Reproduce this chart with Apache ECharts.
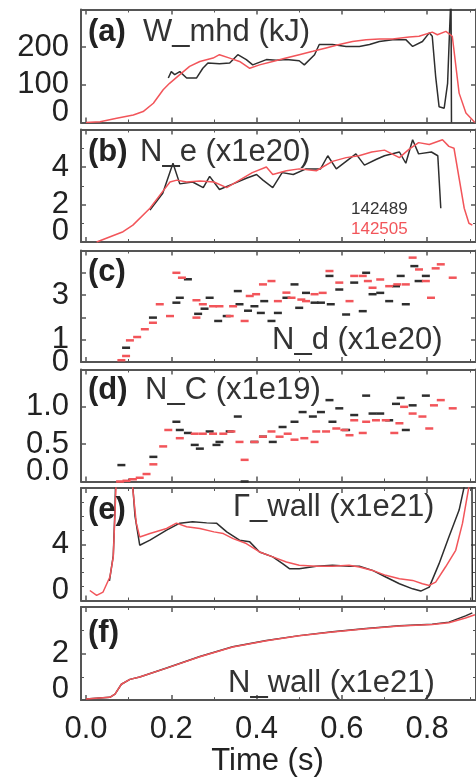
<!DOCTYPE html>
<html><head><meta charset="utf-8">
<script src="https://cdn.jsdelivr.net/npm/echarts@6/dist/echarts.min.js"></script>
<style>html,body{margin:0;padding:0;background:#fff}#c{width:476px;height:778px}</style>
</head><body><div id="c"></div>
<script>
// ---------- DATA ----------
const shotLabels = ['142489', '142505'];
const timeTicks = [0.0, 0.2, 0.4, 0.6, 0.8];

// (a) W_mhd (kJ)
const tA_blk = [0.193,0.2,0.208,0.22,0.236,0.259,0.274,0.286,0.313,0.337,0.356,0.376,0.391,0.423,0.446,0.47,0.5,0.512,0.536,0.547,0.578,0.61,0.641,0.665,0.688,0.719,0.75,0.766,0.789,0.805,0.812,0.82,0.828,0.84,0.848,0.853,0.856,0.857,0.8571];
const wBlk   = [118,135,127,135,118,118,144,158,156,158,180,167,153,167,165,167,164,153,180,207,207,202,202,207,215,220,220,202,215,238,229,122,42,38,104,255,340,340,0];
const tA_red = [0,0.033,0.072,0.111,0.134,0.158,0.181,0.196,0.22,0.243,0.267,0.298,0.313,0.337,0.36,0.384,0.407,0.438,0.469,0.5,0.532,0.563,0.594,0.625,0.657,0.688,0.719,0.758,0.781,0.812,0.824,0.844,0.859,0.875,0.891,0.912];
const wRed   = [0,2,11,20,29,51,87,104,127,149,162,171,180,171,162,144,153,162,171,180,189,198,207,215,220,222,222,227,229,240,233,242,229,78,25,0];

// (b) N_e (x1e20)
const tB_blk = [0.15,0.18,0.204,0.22,0.25,0.275,0.29,0.313,0.345,0.376,0.4,0.415,0.438,0.46,0.486,0.516,0.55,0.567,0.587,0.61,0.633,0.653,0.68,0.70,0.735,0.75,0.766,0.78,0.81,0.825,0.832];
const neBlk  = [1.7,2.6,4.2,3.1,3.2,2.9,3.5,2.8,3.1,3.4,3.6,3.3,2.9,3.7,3.6,3.9,3.9,4.6,3.9,4.3,4.7,4.1,4.4,4.6,4.8,4.2,5.45,4.7,4.8,4.6,1.8];
const tB_red = [0.025,0.087,0.11,0.15,0.18,0.197,0.213,0.236,0.267,0.3,0.33,0.36,0.39,0.423,0.438,0.47,0.5,0.54,0.578,0.61,0.64,0.67,0.70,0.735,0.758,0.78,0.805,0.836,0.851,0.863,0.875,0.887,0.898,0.906];
const neRed  = [0,0.55,0.9,1.8,2.7,3.2,3.3,3.2,3.25,3.2,2.9,3.3,3.7,4.0,3.6,3.8,3.9,3.8,4.3,4.5,4.6,4.8,4.9,4.5,4.95,5.3,5.2,5.45,5.1,5.0,3.4,1.8,1.0,0.9];

// (c) N_d (x1e20) - scattered samples
const tC_blk = [0.094,0.157,0.212,0.22,0.239,0.263,0.278,0.29,0.31,0.33,0.356,0.36,0.372,0.38,0.395,0.41,0.418,0.435,0.45,0.47,0.489,0.5,0.516,0.536,0.551,0.571,0.574,0.594,0.61,0.629,0.649,0.657,0.672,0.69,0.711,0.727,0.738,0.75,0.77,0.78,0.797];
const ndBlk  = [0.64,1.99,2.66,2.88,3.71,2.16,2.39,2.88,1.84,2.06,3.18,2.59,-0.03,2.3,2.5,2.2,2.73,1.84,2.2,2.88,3.48,2.43,3.1,2.66,2.66,3.86,2.59,3.25,2.13,3.56,2.28,4.0,3.04,3.1,2.73,3.4,3.86,2.59,4.3,3.63,3.86];
const tC_red = [0.083,0.094,0.103,0.12,0.138,0.157,0.173,0.197,0.212,0.225,0.259,0.259,0.274,0.298,0.313,0.337,0.345,0.372,0.384,0.399,0.415,0.435,0.45,0.47,0.482,0.505,0.516,0.536,0.555,0.571,0.594,0.618,0.629,0.649,0.661,0.672,0.69,0.711,0.73,0.75,0.766,0.781,0.797,0.809,0.82,0.832,0.86];
const ndRed  = [0.08,0.27,0.97,1.12,1.47,1.76,2.59,2.06,4.0,3.78,1.99,2.77,2.59,2.5,2.5,2.06,2.5,1.84,2.96,3.04,3.48,3.63,2.73,3.11,2.88,2.8,2.73,3.04,3.1,4.08,3.56,2.73,3.86,3.86,3.63,3.33,3.7,3.4,3.48,3.48,4.68,4.15,3.63,2.88,4.2,4.38,3.78];

// (d) N_C (x1e19) - scattered samples
const tD_blk = [0.083,0.158,0.212,0.22,0.239,0.255,0.267,0.29,0.306,0.313,0.337,0.356,0.372,0.395,0.415,0.438,0.461,0.489,0.508,0.532,0.551,0.571,0.578,0.594,0.61,0.629,0.657,0.672,0.69,0.711,0.727,0.738,0.75,0.766,0.797];
const ncBlk  = [0.22,0.33,0.8,0.69,0.65,0.49,0.44,0.67,0.49,0.53,0.67,0.87,0.0,0.53,0.6,0.53,0.73,0.8,0.93,0.87,0.93,1.09,0.8,0.98,0.69,0.89,1.15,0.91,0.91,0.82,1.04,1.12,0.69,1.02,1.15];
const tD_red = [0.08,0.095,0.11,0.126,0.142,0.158,0.181,0.193,0.22,0.255,0.274,0.298,0.322,0.341,0.36,0.372,0.395,0.415,0.435,0.454,0.473,0.489,0.512,0.536,0.54,0.563,0.587,0.606,0.618,0.629,0.649,0.657,0.68,0.703,0.723,0.735,0.746,0.766,0.789,0.805,0.816,0.832,0.86];
const ncRed  = [0,0.01,0.03,0.05,0.1,0.23,0.47,0.69,0.58,0.64,0.64,0.64,0.64,0.67,0.53,0.29,0.53,0.6,0.67,0.6,0.64,0.56,0.58,0.53,0.67,0.67,0.71,0.69,0.62,0.82,0.65,0.8,0.82,0.82,0.65,0.78,1.0,0.91,0.87,0.71,1.02,1.09,0.98];

// (e) Gamma_wall (x1e21)
const tE_blk = [0.055,0.064,0.068,0.072,0.1,0.115,0.126,0.15,0.189,0.22,0.25,0.283,0.306,0.33,0.36,0.384,0.407,0.438,0.461,0.477,0.5,0.54,0.578,0.617,0.641,0.672,0.703,0.735,0.766,0.785,0.805,0.828,0.851,0.875,0.887,0.895,0.905,0.906];
const gwBlk  = [1.4,3.2,6.5,12,12,6,3.93,4.29,5.0,5.5,5.6,5.52,5.5,4.88,4.29,4.17,3.45,3.1,2.62,2.26,2.26,2.43,2.5,2.43,2.43,2.14,1.67,1.19,0.83,0.67,0.95,2.62,4.52,6.43,8.1,10,10,0];
const tE_red = [0.009,0.025,0.04,0.056,0.064,0.068,0.075,0.1,0.11,0.118,0.126,0.15,0.189,0.212,0.236,0.267,0.3,0.322,0.345,0.376,0.407,0.438,0.47,0.5,0.54,0.578,0.617,0.641,0.672,0.703,0.735,0.766,0.789,0.805,0.82,0.843,0.867,0.883,0.898,0.91];
const gwRed  = [0.71,0.36,0.6,1.67,3.1,6.2,12,12,7.86,5.5,4.52,4.76,5.12,5.5,5.24,5.12,4.88,4.76,4.4,4.05,3.45,3.1,2.74,2.5,2.43,2.43,2.5,2.38,2.14,1.79,1.55,1.43,1.19,1.07,1.31,2.38,3.57,5.5,8.1,9.5];

// (f) N_wall (x1e21)
const tF     = [0,0.056,0.068,0.083,0.103,0.126,0.189,0.267,0.344,0.423,0.5,0.578,0.657,0.735,0.812,0.851,0.89,0.912];
const nwRed  = [0.05,0.12,0.26,0.68,0.89,0.99,1.375,1.86,2.28,2.55,2.76,2.93,3.07,3.18,3.25,3.32,3.53,3.67];
const tF_blk = [0,0.056,0.068,0.083,0.103,0.126,0.189,0.267,0.344,0.423,0.5,0.578,0.657,0.735,0.812,0.851,0.89,0.906];
const nwBlk  = [0.05,0.12,0.26,0.68,0.89,0.99,1.38,1.87,2.29,2.56,2.77,2.94,3.08,3.19,3.26,3.35,3.62,3.75];

// ---------- CHART ----------
const FONT = 'Liberation Sans';
const BLK = '#2e2e2e', RED = '#f2555a', AX = '#555';
const X_MIN = -0.0117, X_MAX = 0.9146;
const pair = (ts, vs) => ts.map((t, k) => [t, vs[k]]);

const panels = [
  {top: 9.5,   height: 113,   min: 0, max: 300, interval: 100, minor: 0, labels: [100,200], dec: 0, minBottom: true,
   lines: [[tA_blk, wBlk], [tA_red, wRed]]},
  {top: 129.5, height: 112.5, min: 0, max: 6,   interval: 2,   minor: 2, labels: [2,4], dec: 0, minBottom: true,
   lines: [[tB_blk, neBlk], [tB_red, neRed]]},
  {top: 250.5, height: 111.5, min: 0, max: 5,   interval: 1,   minor: 0, labels: [1,3], dec: 0, minBottom: false,
   dots: [[tC_blk, ndBlk], [tC_red, ndRed]]},
  {top: 369.5, height: 112,   min: 0, max: 1.5, interval: 0.5, minor: 0, labels: [0.5,1], dec: 1, minBottom: true,
   dots: [[tD_blk, ncBlk], [tD_red, ncRed]]},
  {top: 488,   height: 112.5, min: 0, max: 8,   interval: 4,   minor: 4, labels: [4], dec: 0, minBottom: true,
   lines: [[tE_blk, gwBlk], [tE_red, gwRed]]},
  {top: 607,   height: 96,    min: 0, max: 4,   interval: 2,   minor: 2, labels: [2], dec: 0, minBottom: true,
   lines: [[tF_blk, nwBlk], [tF, nwRed]]}
];

const grids = [], xAxes = [], yAxes = [], series = [];
const axisLine = {show: true, onZero: false, lineStyle: {color: AX, width: 2}};
const axisTick = {show: true, inside: true, length: 5, lineStyle: {color: AX, width: 1.5}};
const labelStyle = {fontFamily: FONT, fontSize: 31, color: '#222'};
const has = (arr, v) => arr.some(l => Math.abs(l - v) < 1e-6);

panels.forEach((p, i) => {
  grids.push({left: 81, width: 396, top: p.top, height: p.height, show: false});
  const isLast = i === panels.length - 1;
  const xBase = {
    type: 'value', gridIndex: i, min: X_MIN, max: X_MAX, minInterval: 0.2, maxInterval: 0.2,
    axisLine, axisTick, splitLine: {show: false},
    minorTick: {show: true, splitNumber: 2, length: 3, lineStyle: {color: AX, width: 1}}
  };
  xAxes.push(Object.assign({}, xBase, {
    position: 'bottom',
    axisLabel: isLast ? Object.assign({}, labelStyle, {
      margin: 14, showMinLabel: false, showMaxLabel: false,
      formatter: v => has(timeTicks, v) ? v.toFixed(1) : ''
    }) : {show: false},
    name: isLast ? 'Time (s)' : '', nameLocation: 'middle', nameGap: 38,
    nameTextStyle: Object.assign({}, labelStyle, {padding: [0, 22, 0, 0]})
  }));
  xAxes.push(Object.assign({}, xBase, {position: 'top', axisLabel: {show: false}}));

  const yBase = {
    type: 'value', gridIndex: i, min: p.min, max: p.max, interval: p.interval,
    axisLine, axisTick, splitLine: {show: false},
    minorTick: {show: p.minor > 0, splitNumber: p.minor || 2, length: 3, lineStyle: {color: AX, width: 1}}
  };
  // main left axis: ticks + inner labels
  yAxes.push(Object.assign({}, yBase, {
    position: 'left',
    axisLabel: Object.assign({}, labelStyle, {
      margin: 12, showMinLabel: false, showMaxLabel: false,
      formatter: v => has(p.labels, v) ? v.toFixed(p.dec) : ''
    })
  }));
  // mirrored right axis
  yAxes.push(Object.assign({}, yBase, {position: 'right', axisLabel: {show: false}}));
  // label-only axis carrying the zero label
  yAxes.push({
    type: 'value', gridIndex: i, position: 'left', min: p.min, max: p.max, interval: p.max - p.min,
    axisLine: {show: false}, axisTick: {show: false}, splitLine: {show: false},
    axisLabel: Object.assign({}, labelStyle, {
      margin: 12, lineHeight: 21, showMinLabel: true, showMaxLabel: false,
      verticalAlignMinLabel: p.minBottom ? 'bottom' : 'middle',
      formatter: v => Math.abs(v - p.min) < 1e-9 ? v.toFixed(p.dec) : ''
    })
  });

  const cols = [BLK, RED];
  if (p.lines) p.lines.forEach((ln, k) => series.push({
    name: shotLabels[k], type: 'line', xAxisIndex: 2 * i, yAxisIndex: 3 * i,
    data: pair(ln[0], ln[1]), showSymbol: false, symbol: 'none', smooth: false,
    lineStyle: {color: cols[k], width: 1.5}, itemStyle: {color: cols[k]}, z: k === 1 ? 3 : 2, animation: false
  }));
  if (p.dots) p.dots.forEach((ln, k) => series.push({
    name: shotLabels[k], type: 'scatter', xAxisIndex: 2 * i, yAxisIndex: 3 * i,
    data: pair(ln[0], ln[1]), symbol: 'rect', symbolSize: [8, 2.5],
    itemStyle: {color: cols[k], opacity: 1}, animation: false
  }));
});

const bold = {fontFamily: FONT, fontSize: 31, fontWeight: 'bold', color: '#222', lineHeight: 32};
const norm = {fontFamily: FONT, fontSize: 31, fontWeight: 'normal', color: '#333', lineHeight: 32};
const T = (text, left, top, st) => ({text, left, top, padding: 0, textStyle: st});
const titles = [
  T('(a)', 88, 16, bold), T('W_mhd (kJ)', 143, 16, norm),
  T('(b)', 88, 136, bold), T('N_e (x1e20)', 140, 136, norm),
  T('(c)', 88, 256, bold), T('N_d (x1e20)', 272, 324, norm),
  T('(d)', 88, 374, bold), T('N_C (x1e19)', 145, 374, norm),
  T('(e)', 88, 494, bold), T('\u0393_wall (x1e21)', 233, 491, norm),
  T('(f)', 88, 617, bold), T('N_wall (x1e21)', 228, 667, norm)
];

const chart = echarts.init(document.getElementById('c'), null, {renderer: 'canvas'});
chart.setOption({
  animation: false,
  backgroundColor: '#fff',
  title: titles,
  legend: {
    left: 341, top: 196, orient: 'vertical', icon: 'none', itemWidth: 0, itemHeight: 0, itemGap: 3,
    selectedMode: false,
    textStyle: {fontFamily: FONT, fontSize: 17},
    data: [{name: shotLabels[0], textStyle: {color: '#333'}}, {name: shotLabels[1], textStyle: {color: RED}}]
  },
  grid: grids, xAxis: xAxes, yAxis: yAxes, series
});
</script></body></html>
